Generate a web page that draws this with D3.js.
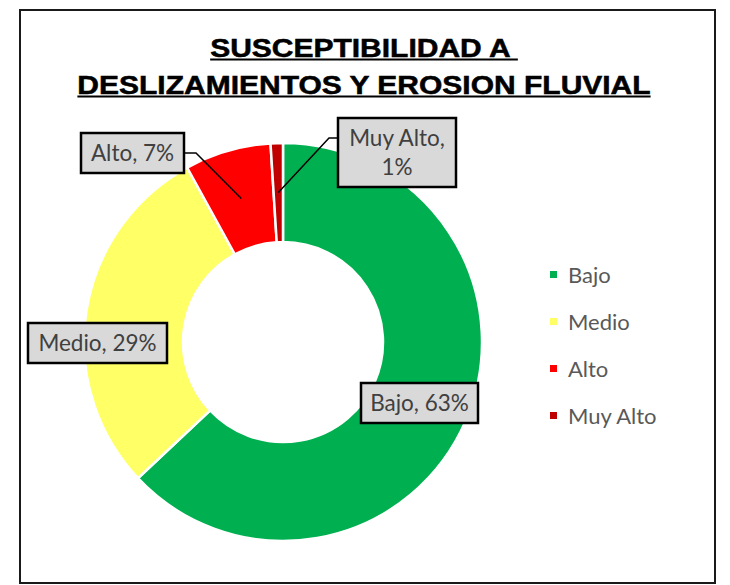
<!DOCTYPE html>
<html>
<head>
<meta charset="utf-8">
<script src="https://cdn.jsdelivr.net/npm/d3@7"></script>
<style>
  html, body { margin: 0; padding: 0; background: #fff; }
  svg { display: block; }
</style>
</head>
<body>
<svg id="chart" width="730" height="585"></svg>
<script>
// Susceptibility classes and their share of the area (%)
const categories = ["Bajo", "Medio", "Alto", "Muy Alto"];
const values = [63, 29, 7, 1];
const colors = ["#00B050", "#FFFF66", "#FF0000", "#C00000"];
const titleLines = ["SUSCEPTIBILIDAD A ", "DESLIZAMIENTOS Y EROSION FLUVIAL"];

const svg = d3.select("#chart");

// chart frame
svg.append("rect")
  .attr("x", 20).attr("y", 10)
  .attr("width", 695).attr("height", 573)
  .attr("fill", "#fff").attr("stroke", "#1a1a1a").attr("stroke-width", 2);

// title, bold and underlined
const titleFont = "'Liberation Sans', Arial, sans-serif";
const titleBase = [56.5, 93.5];
titleLines.forEach((line, i) => {
  const t = svg.append("text")
    .attr("x", 364).attr("y", 0)
    .attr("text-anchor", "middle")
    .attr("font-family", titleFont)
    .attr("font-weight", "bold")
    .attr("font-size", 30)
    .attr("fill", "#000")
    .attr("stroke", "#000")
    .attr("stroke-width", 0.6)
    .attr("xml:space", "preserve")
    .attr("transform", `translate(0,${titleBase[i]}) scale(1,0.87)`)
    .text(line);
  const bb = t.node().getBBox();
  svg.append("line")
    .attr("x1", bb.x).attr("x2", bb.x + bb.width)
    .attr("y1", titleBase[i] + 3).attr("y2", titleBase[i] + 3)
    .attr("stroke", "#000").attr("stroke-width", 2);
});

// doughnut
const cx = 283, cy = 342, rOuter = 199, rInner = 100;
const g = svg.append("g").attr("transform", `translate(${cx},${cy})`);
const data = categories.map((c, i) => ({ name: c, value: values[i], color: colors[i] }));
const pie = d3.pie().sort(null).value(d => d.value).startAngle(0).endAngle(2 * Math.PI);
const arcs = pie(data);
const arc = d3.arc().innerRadius(rInner).outerRadius(rOuter);

g.selectAll("path.slice")
  .data(arcs)
  .join("path")
  .attr("class", "slice")
  .attr("d", arc)
  .attr("fill", d => d.data.color)
  .attr("stroke", "#fff")
  .attr("stroke-width", 2.5)
  .attr("stroke-linejoin", "miter");

// data labels: boxed callouts
const labelFont = "Lato, 'Open Sans', sans-serif";
const midArc = d3.arc().innerRadius((rInner + rOuter) / 2).outerRadius((rInner + rOuter) / 2);
const callouts = [
  { box: [361, 383, 117, 40], lines: [`${categories[0]}, ${values[0]}%`] },
  { box: [28, 323, 139, 40], lines: [`${categories[1]}, ${values[1]}%`] },
  { box: [81, 133, 103, 40], lines: [`${categories[2]}, ${values[2]}%`], leader: "right" },
  { box: [338, 118, 118, 69], lines: [`${categories[3]},`, `${values[3]}%`], leader: "left" }
];

callouts.forEach((c, i) => {
  const [bx, by, bw, bh] = c.box;
  if (c.leader) {
    const [px, py] = midArc.centroid(arcs[i]);
    const ly = by + 20;
    const sx = c.leader === "right" ? bx + bw : bx;
    const kx = c.leader === "right" ? sx + 12 : sx - 9;
    svg.append("polyline")
      .attr("points", `${sx},${ly} ${kx},${ly} ${cx + px},${cy + py}`)
      .attr("fill", "none").attr("stroke", "#000").attr("stroke-width", 1.5);
  }
  svg.append("rect")
    .attr("x", bx).attr("y", by).attr("width", bw).attr("height", bh)
    .attr("fill", "#D9D9D9").attr("stroke", "#000").attr("stroke-width", 2.5);
  const n = c.lines.length;
  c.lines.forEach((ln, j) => {
    svg.append("text")
      .attr("x", bx + bw / 2)
      .attr("y", by + bh / 2 + (j - (n - 1) / 2) * 29 + 8)
      .attr("text-anchor", "middle")
      .attr("font-family", labelFont)
      .attr("font-size", 22.5)
      .attr("fill", "#404040")
      .text(ln);
  });
});

// legend
const legend = svg.append("g");
categories.forEach((c, i) => {
  const y = 275 + i * 47;
  legend.append("rect")
    .attr("x", 550).attr("y", y - 4).attr("width", 7).attr("height", 7)
    .attr("fill", colors[i]);
  legend.append("text")
    .attr("x", 568).attr("y", y + 8)
    .attr("font-family", labelFont)
    .attr("font-size", 22)
    .attr("fill", "#595959")
    .text(c);
});
</script>
</body>
</html>
